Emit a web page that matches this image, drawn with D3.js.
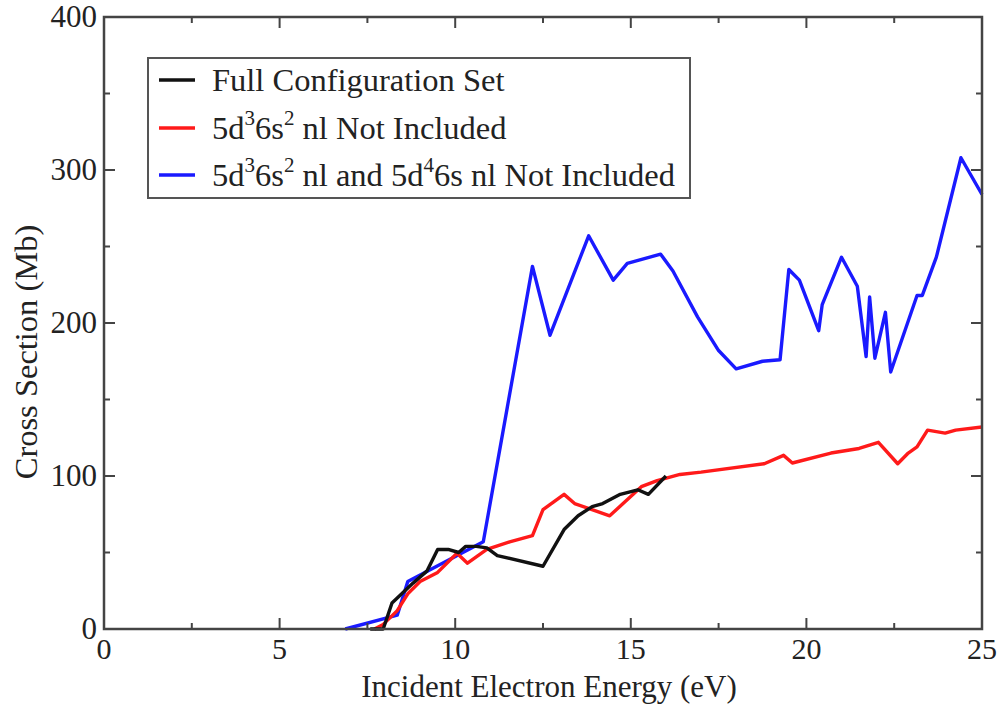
<!DOCTYPE html>
<html>
<head>
<meta charset="utf-8">
<script src="https://cdn.jsdelivr.net/npm/d3@7"></script>
<style>
  body { margin: 0; background: #fff; }
</style>
</head>
<body>
<div id="chart"></div>
<script>
// series (energy in eV, cross section in Mb)
var fullX = [7.58, 7.95, 8.2, 8.5, 8.8, 9.2, 9.5, 9.8, 10.1, 10.3, 10.6, 10.9, 11.2, 12.5, 13.1, 13.5, 13.9, 14.2, 14.7, 15.2, 15.5, 16.0];
var fullY = [0, 0, 17, 23.5, 30, 38, 52, 52, 50, 54, 54, 53, 48, 41, 65, 74, 80, 82, 88, 91, 88, 100];

var redX = [7.7, 7.95, 8.35, 8.65, 9.0, 9.5, 10.05, 10.35, 10.9, 11.55, 12.2, 12.5, 13.1, 13.4, 14.4, 15.3, 15.75, 16.4, 17.0, 18.8, 19.35, 19.6, 20.7, 21.5, 22.05, 22.6, 22.9, 23.15, 23.45, 23.95, 24.25, 25.0];
var redY = [0, 3, 12, 23, 31, 37, 49.5, 43, 52, 57, 61, 78, 88, 82, 74, 93, 97, 101, 102.5, 108, 113.5, 108.5, 115, 118, 122, 108, 115, 119, 130, 128, 130, 132];

var blueX = [6.87, 8.35, 8.65, 10.8, 12.2, 12.7, 13.8, 14.5, 14.9, 15.85, 16.2, 16.9, 17.5, 18.0, 18.75, 19.25, 19.5, 19.8, 20.35, 20.45, 21.0, 21.45, 21.7, 21.8, 21.95, 22.25, 22.4, 23.15, 23.3, 23.7, 24.4, 25.0];
var blueY = [0, 9, 31, 57, 237, 192, 257, 228, 239, 245, 234, 204, 182, 170, 175, 176, 235, 228, 195, 212, 243, 224, 178, 217, 177, 207, 168, 218, 218, 243, 308, 284];

var xTicks = [0, 5, 10, 15, 20, 25];
var yTicks = [0, 100, 200, 300, 400];

var seriesColors = ["#111", "#ff1a1a", "#1a1aff"];

var width = 1000, height = 704;
var margin = { top: 17, right: 18, bottom: 75, left: 104 };
var serif = "'Liberation Serif', 'Times New Roman', Times, serif";

var svg = d3.select("#chart").append("svg")
  .attr("width", width)
  .attr("height", height)
  .attr("font-family", serif)
  .style("font-family", serif);

var x = d3.scaleLinear().domain([0, 25]).range([margin.left, width - margin.right]);
var y = d3.scaleLinear().domain([0, 400]).range([height - margin.bottom, margin.top]);

var frameColor = "#444";
var textColor = "#222";

// minor + major ticks, pointing inward, on all four sides
function drawTicks() {
  var g = svg.append("g").attr("stroke", frameColor).attr("stroke-width", 2);
  d3.range(0, 25.01, 2.5).forEach(function (v) {
    var len = v % 5 === 0 ? 11 : 6;
    g.append("line").attr("x1", x(v)).attr("x2", x(v)).attr("y1", y(0)).attr("y2", y(0) - len);
    g.append("line").attr("x1", x(v)).attr("x2", x(v)).attr("y1", y(400)).attr("y2", y(400) + len);
  });
  d3.range(0, 400.01, 50).forEach(function (v) {
    var len = v % 100 === 0 ? 11 : 6;
    g.append("line").attr("y1", y(v)).attr("y2", y(v)).attr("x1", x(0)).attr("x2", x(0) + len);
    g.append("line").attr("y1", y(v)).attr("y2", y(v)).attr("x1", x(25)).attr("x2", x(25) - len);
  });
}

// data lines
var line = d3.line()
  .x(function (d) { return x(d[0]); })
  .y(function (d) { return y(d[1]); });

function zip(xs, ys) {
  return xs.map(function (v, i) { return [v, ys[i]]; });
}

var seriesData = [zip(fullX, fullY), zip(redX, redY), zip(blueX, blueY)];

[2, 1, 0].forEach(function (i) {
  svg.append("path")
    .datum(seriesData[i])
    .attr("fill", "none")
    .attr("stroke", seriesColors[i])
    .attr("stroke-width", 3.4)
    .attr("stroke-linejoin", "round")
    .attr("d", line);
});

drawTicks();

// frame
svg.append("rect")
  .attr("x", x(0)).attr("y", y(400))
  .attr("width", x(25) - x(0)).attr("height", y(0) - y(400))
  .attr("fill", "none")
  .attr("stroke", frameColor)
  .attr("stroke-width", 2.5);

// tick labels
svg.append("g").selectAll("text")
  .data(xTicks).join("text")
  .attr("x", function (d) { return x(d); })
  .attr("y", y(0) + 30)
  .attr("text-anchor", "middle")
  .attr("font-size", 30)
  .attr("fill", textColor)
  .text(function (d) { return d; });

svg.append("g").selectAll("text")
  .data(yTicks).join("text")
  .attr("x", x(0) - 7)
  .attr("y", function (d) { return y(d) + 10; })
  .attr("text-anchor", "end")
  .attr("font-size", 31)
  .attr("fill", textColor)
  .text(function (d) { return d; });

// axis titles
svg.append("text")
  .attr("x", (x(0) + x(25)) / 2 + 6)
  .attr("y", 697)
  .attr("text-anchor", "middle")
  .attr("font-size", 31)
  .attr("fill", textColor)
  .text("Incident Electron Energy (eV)");

svg.append("text")
  .attr("transform", "translate(37," + (y(200) + 29) + ") rotate(-90)")
  .attr("text-anchor", "middle")
  .attr("font-size", 32.5)
  .attr("fill", textColor)
  .text("Cross Section (Mb)");

// legend
var legend = svg.append("g");
legend.append("rect")
  .attr("x", 148).attr("y", 58)
  .attr("width", 542).attr("height", 140)
  .attr("fill", "#fff")
  .attr("stroke", "#555")
  .attr("stroke-width", 2);

var rowY = [80, 128, 175];
var fs = 32.5;

function addRow(i, parts) {
  legend.append("line")
    .attr("x1", 159).attr("x2", 195)
    .attr("y1", rowY[i]).attr("y2", rowY[i])
    .attr("stroke", seriesColors[i])
    .attr("stroke-width", 3.4);
  var t = legend.append("text")
    .attr("x", 212)
    .attr("y", rowY[i] + 11)
    .attr("font-size", fs)
    .attr("fill", textColor);
  parts.forEach(function (p) {
    if (p.sup) {
      t.append("tspan").attr("dy", -14).attr("font-size", 21).text(p.s);
    } else if (p.after) {
      t.append("tspan").attr("dy", 14).text(p.s);
    } else {
      t.append("tspan").text(p.s);
    }
  });
}

addRow(0, [{ s: "Full Configuration Set" }]);
addRow(1, [{ s: "5d" }, { s: "3", sup: true }, { s: "6s", after: true }, { s: "2", sup: true }, { s: " nl Not Included", after: true }]);
addRow(2, [{ s: "5d" }, { s: "3", sup: true }, { s: "6s", after: true }, { s: "2", sup: true },
  { s: " nl and 5d", after: true }, { s: "4", sup: true }, { s: "6s nl Not Included", after: true }]);
</script>
</body>
</html>
